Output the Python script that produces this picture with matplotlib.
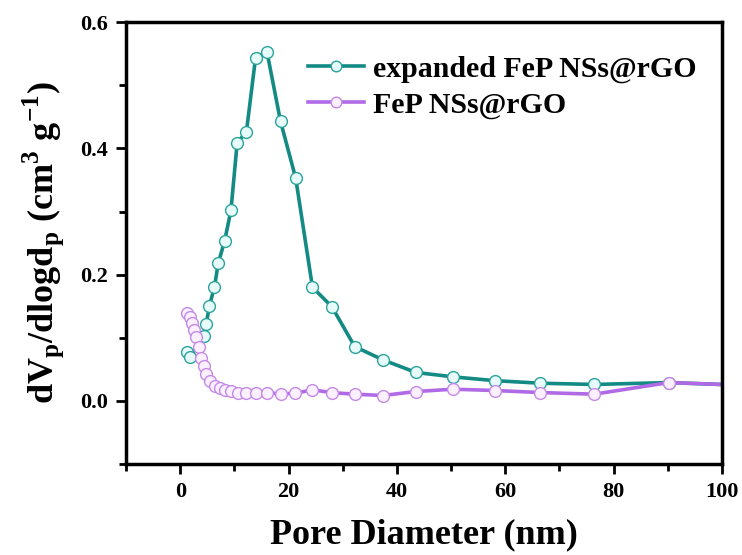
import numpy as np
import matplotlib
matplotlib.use("Agg")
import matplotlib.pyplot as plt
from matplotlib.ticker import MultipleLocator

# expanded FeP NSs@rGO
x_exp = [1.2, 1.85, 4.3, 4.8, 5.35, 6.3, 7.0, 8.2, 9.35, 10.5, 12.2, 13.9, 16.0,
         18.5, 21.3, 24.4, 28.0, 32.2, 37.4, 43.5, 50.4, 58.1, 66.4, 76.4, 90.2, 103.0]
y_exp = [0.078, 0.070, 0.102, 0.122, 0.150, 0.180, 0.218, 0.254, 0.302, 0.409, 0.426,
         0.544, 0.553, 0.443, 0.353, 0.180, 0.149, 0.086, 0.065, 0.045, 0.038, 0.032,
         0.028, 0.026, 0.029, 0.025]

# FeP NSs@rGO
x_fep = [1.2, 1.7, 2.15, 2.6, 2.95, 3.4, 3.8, 4.3, 4.8, 5.4, 6.45, 7.4, 8.3, 9.35,
         10.6, 12.2, 13.9, 16.0, 18.5, 21.2, 24.4, 28.0, 32.2, 37.4, 43.5, 50.4, 58.1,
         66.4, 76.4, 90.2, 103.0]
y_fep = [0.139, 0.133, 0.124, 0.113, 0.101, 0.086, 0.068, 0.055, 0.043, 0.032, 0.024,
         0.020, 0.0175, 0.015, 0.013, 0.013, 0.012, 0.013, 0.011, 0.012, 0.0175, 0.013,
         0.0106, 0.0085, 0.0148, 0.0185, 0.0164, 0.0132, 0.0106, 0.029, 0.025]

TEAL = "#138a84"
PURPLE = "#b06ae6"

plt.rcParams.update({
    "font.family": ["Liberation Serif", "DejaVu Serif"],
    "font.weight": "bold",
    "mathtext.fontset": "custom",
    "mathtext.rm": "Liberation Serif:bold",
    "mathtext.bf": "Liberation Serif:bold",
})

fig = plt.figure(figsize=(7.42, 5.55), dpi=100)
ax = fig.add_axes([0.170, 0.164, 0.803, 0.796])

ax.plot(x_exp, y_exp, "-o", color=TEAL, lw=2.6, ms=8.5, mfc="#e6fbfa",
        mec="#2aa39b", mew=1.0, label="expanded FeP NSs@rGO")
ax.plot(x_fep, y_fep, "-o", color=PURPLE, lw=2.6, ms=8.5, mfc="#faf0ff",
        mec="#c58ae8", mew=1.0, label="FeP NSs@rGO")

ax.set_xlim(-10, 100)
ax.set_ylim(-0.1, 0.6)
ax.xaxis.set_major_locator(MultipleLocator(20))
ax.xaxis.set_minor_locator(MultipleLocator(10))
ax.yaxis.set_major_locator(MultipleLocator(0.2))
ax.yaxis.set_minor_locator(MultipleLocator(0.1))
ax.yaxis.set_major_formatter(matplotlib.ticker.FormatStrFormatter("%.1f"))

for s in ax.spines.values():
    s.set_linewidth(2.5)
ax.tick_params(which="both", direction="out", width=2, top=False, right=False)
ax.tick_params(which="major", length=7, labelsize=16, pad=6)
ax.tick_params(which="minor", length=5)
for lab in ax.get_xticklabels() + ax.get_yticklabels():
    lab.set_fontweight("bold")

ax.set_xlabel("Pore Diameter (nm)", fontsize=26, fontweight="bold", labelpad=12)
ax.set_ylabel(r"dV$_\mathregular{p}$/dlogd$_\mathregular{p}$ (cm$^\mathregular{3}$ g$^\mathregular{-1}$)",
              fontsize=26, fontweight="bold", labelpad=10)

ax.legend(loc="upper right", bbox_to_anchor=(1.003, 0.985), frameon=False,
          prop={"size": 21.5, "weight": "bold"}, handlelength=1.9,
          handletextpad=0.3, labelspacing=0.28, markerscale=0.9)

fig.savefig("out.png", dpi=100)
